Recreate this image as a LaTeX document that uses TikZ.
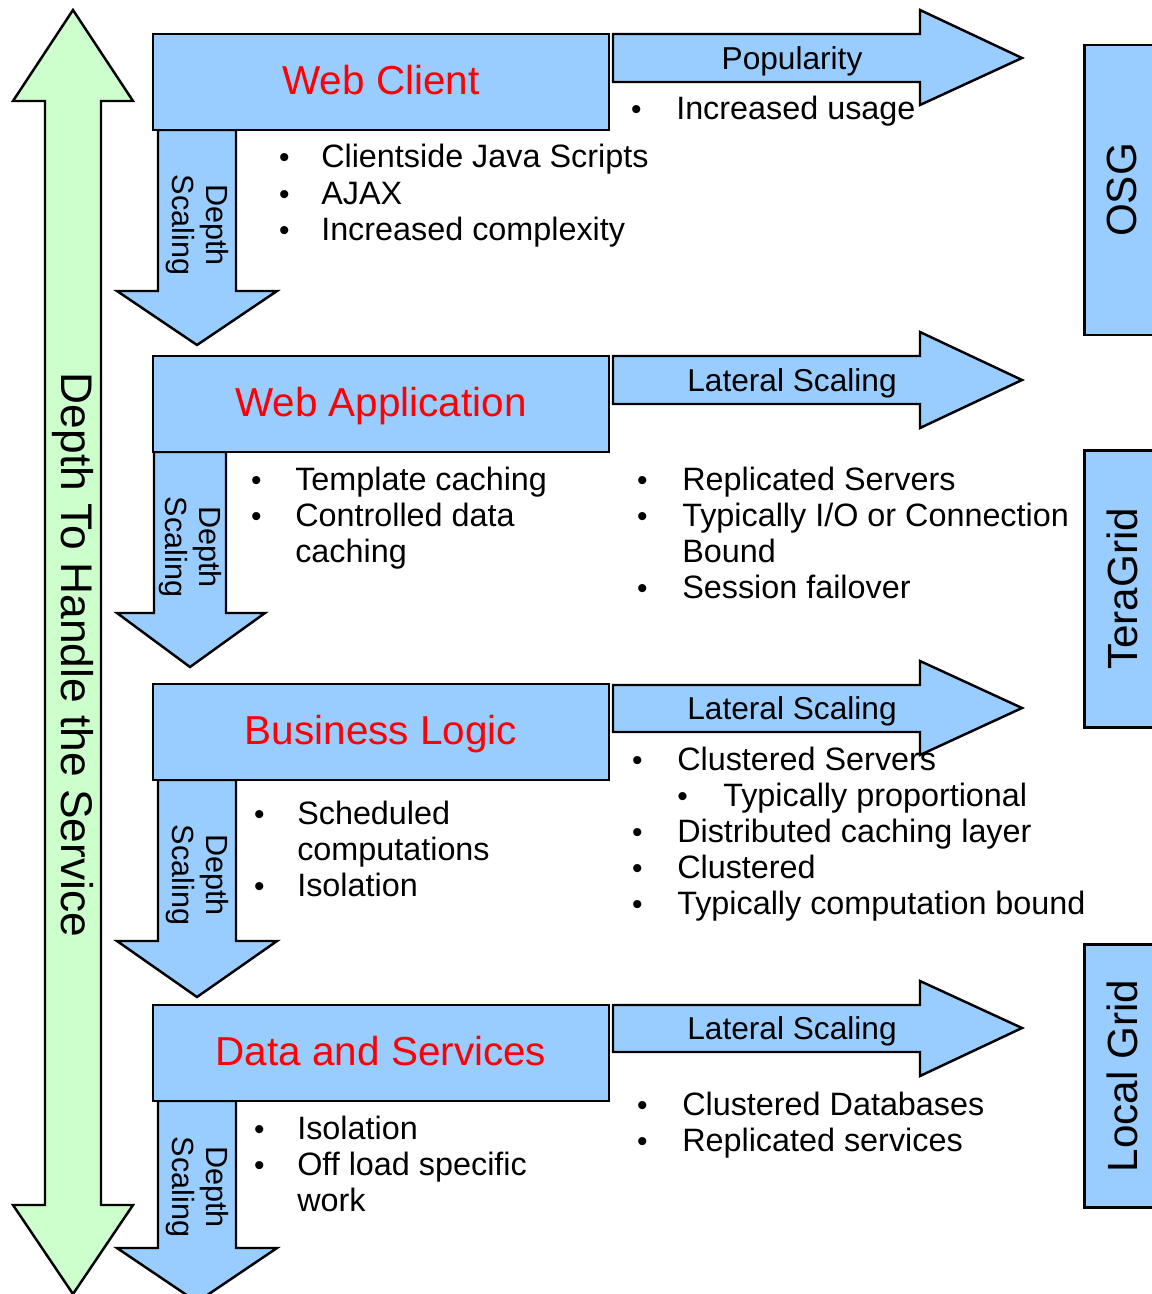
\documentclass[tikz,border=0pt]{standalone}
\usepackage{fontspec}
\setmainfont{Liberation Sans}
\usepackage{tikz}

\definecolor{boxblue}{HTML}{99CCFF}
\definecolor{depthgreen}{HTML}{CCFFCC}
\newcommand{\bul}{{\fontsize{8.5}{8.5}\selectfont\textbullet}}

\begin{document}
\begin{tikzpicture}[x=0.01cm, y=-0.01cm, line width=0.7pt, line join=miter,
    blockarrow/.style={draw, fill=boxblue},
    tier/.style={draw, fill=boxblue, rectangle, minimum width=4.56cm, minimum height=0.96cm, text height=8.2pt, text depth=1pt, text=red, font=\fontsize{11.5}{13}\selectfont},
    grid/.style={draw, fill=boxblue, rectangle, rotate=90, minimum width=#1, minimum height=0.75cm, font=\fontsize{12}{14}\selectfont},
    depthlabel/.style={rotate=-90, align=center, inner sep=0pt, font=\fontsize{8.7}{9.7}\selectfont},
    lateral/.style={inner sep=0pt, font=\fontsize{9}{10}\selectfont},
    itemlist/.style={anchor=base west, inner sep=0pt, font=\fontsize{9.2}{10.25}\selectfont}]
    \useasboundingbox (0,0) rectangle (1151,1294);

    % Long arrow on the left
    \draw[fill=depthgreen] (73,10) -- (133,101) -- (101,101) -- (101,1205) -- (133,1205) -- (73,1294)
        -- (13,1205) -- (45,1205) -- (45,101) -- (13,101) -- cycle;
    \node[rotate=-90, inner sep=0pt, font=\fontsize{12.6}{14}\selectfont] (service) at (73,655) {Depth To Handle the Service};

    % Depth scaling arrows
    \draw[blockarrow] (158,130) -- (236,130) -- (236,291) -- (277,291) -- (197,345) -- (117,291) -- (158,291) -- cycle;
    \draw[blockarrow] (154,452) -- (226,452) -- (226,613) -- (265,613) -- (190,667) -- (117,613) -- (154,613) -- cycle;
    \draw[blockarrow] (158,780) -- (236,780) -- (236,941) -- (277,941) -- (197,997) -- (117,941) -- (158,941) -- cycle;
    \draw[blockarrow] (158,1101) -- (236,1101) -- (236,1248) -- (277,1248) -- (197,1302) -- (117,1248) -- (158,1248) -- cycle;
    \node[depthlabel] (depth1) at (197,225) {Depth\\Scaling};
    \node[depthlabel] (depth2) at (190,547) {Depth\\Scaling};
    \node[depthlabel] (depth3) at (197,875) {Depth\\Scaling};
    \node[depthlabel] (depth4) at (197,1187) {Depth\\Scaling};

    % Lateral arrows
    \draw[blockarrow] (613,34) -- (920,34) -- (920,10) -- (1022,58) -- (920,105) -- (920,82) -- (613,82) -- cycle;
    \draw[blockarrow] (613,356) -- (920,356) -- (920,332) -- (1022,380) -- (920,428) -- (920,404) -- (613,404) -- cycle;
    \draw[blockarrow] (613,685) -- (920,685) -- (920,661) -- (1022,708) -- (920,755) -- (920,732) -- (613,732) -- cycle;
    \draw[blockarrow] (613,1005) -- (920,1005) -- (920,981) -- (1022,1028) -- (920,1076) -- (920,1052) -- (613,1052) -- cycle;
    \node[lateral] (popularity) at (792,61) {Popularity};
    \node[lateral] (lateral1) at (792,383) {Lateral Scaling};
    \node[lateral] (lateral2) at (792,711) {Lateral Scaling};
    \node[lateral] (lateral3) at (792,1031) {Lateral Scaling};

    % Tiers
    \node[tier] (client) at (381,82) {Web Client};
    \node[tier] (webapp) at (381,404) {Web Application};
    \node[tier] (logic) at (381,732) {Business Logic};
    \node[tier] (data) at (381,1053) {Data and Services};

    % Grids on the right
    \node[grid=2.90cm] (osg) at (1122,190) {OSG};
    \node[grid=2.77cm] (teragrid) at (1122,589) {TeraGrid};
    \node[grid=2.63cm] (localgrid) at (1122,1076) {Local Grid};

    % Bullet lists
    \node[itemlist] (clientlist) at (278,168) {\begin{tabular}[t]{@{}p{0.42cm}@{}l@{}}
        \bul & Clientside Java Scripts\\
        \bul & AJAX\\
        \bul & Increased complexity
    \end{tabular}};
    \node[itemlist] (usagelist) at (630,120) {\begin{tabular}[t]{@{}p{0.45cm}@{}l@{}}
        \bul & Increased usage
    \end{tabular}};
    \node[itemlist] (webapplist) at (250,490) {\begin{tabular}[t]{@{}p{0.44cm}@{}l@{}}
        \bul & Template caching\\
        \bul & Controlled data\\
             & caching
    \end{tabular}};
    \node[itemlist] (serverlist) at (636,490) {\begin{tabular}[t]{@{}p{0.45cm}@{}l@{}}
        \bul & Replicated Servers\\
        \bul & Typically I/O or Connection\\
             & Bound\\
        \bul & Session failover
    \end{tabular}};
    \node[itemlist] (logiclist) at (253,824) {\begin{tabular}[t]{@{}p{0.43cm}@{}l@{}}
        \bul & Scheduled\\
             & computations\\
        \bul & Isolation
    \end{tabular}};
    \node[itemlist] (clusterlist) at (631,770) {\begin{tabular}[t]{@{}p{0.45cm}@{}l@{}}
        \bul & Clustered Servers\\
             & \makebox[0.46cm][l]{\bul}Typically proportional\\
        \bul & Distributed caching layer\\
        \bul & Clustered\\
        \bul & Typically computation bound
    \end{tabular}};
    \node[itemlist] (datalist) at (253,1139) {\begin{tabular}[t]{@{}p{0.43cm}@{}l@{}}
        \bul & Isolation\\
        \bul & Off load specific\\
             & work
    \end{tabular}};
    \node[itemlist] (dblist) at (636,1115) {\begin{tabular}[t]{@{}p{0.45cm}@{}l@{}}
        \bul & Clustered Databases\\
        \bul & Replicated services
    \end{tabular}};
\end{tikzpicture}
\end{document}
